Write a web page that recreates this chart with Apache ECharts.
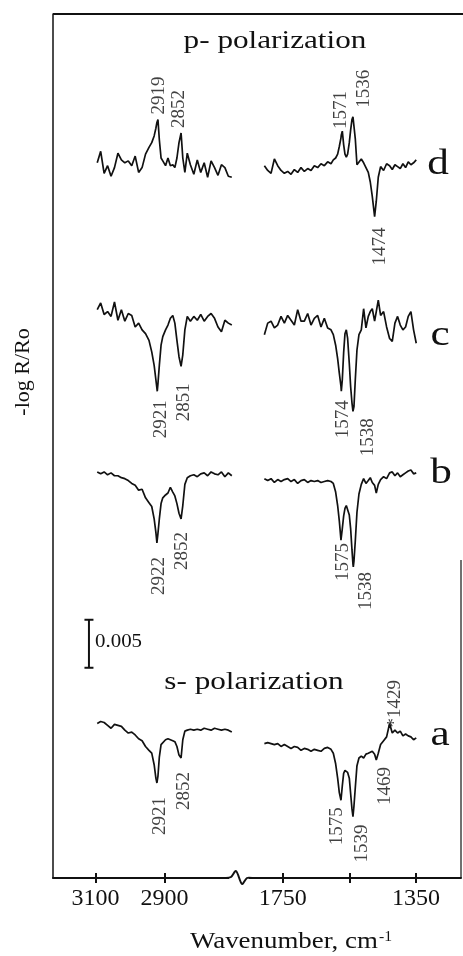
<!DOCTYPE html>
<html>
<head>
<meta charset="utf-8">
<script src="https://cdn.jsdelivr.net/npm/echarts@6/dist/echarts.min.js"></script>
<style>
  html, body { margin: 0; padding: 0; background: #fff; }
  #chart { width: 463px; height: 956px; }
</style>
</head>
<body>
<div id="chart"></div>
<script>
// Wavenumber samples (cm-1) for the C-H stretching window and the fingerprint window
const wnCH = [3095, 3085, 3075, 3065, 3055, 3045, 3035, 3025, 3015, 3005,
  2995, 2985, 2975, 2965, 2955, 2945, 2937, 2930, 2925, 2922,
  2921, 2919, 2915, 2910, 2905, 2897, 2890, 2883, 2876, 2870,
  2864, 2858, 2852, 2851, 2847, 2841, 2834, 2825, 2815, 2805,
  2795, 2785, 2775, 2765, 2755, 2745, 2735, 2725, 2715, 2705];

const wnFP = [1805, 1795, 1785, 1775, 1765, 1755, 1745, 1735, 1725, 1715,
  1705, 1695, 1685, 1675, 1665, 1655, 1645, 1635, 1625, 1615,
  1605, 1598, 1591, 1585, 1580, 1575, 1574, 1571, 1567, 1563,
  1559, 1555, 1550, 1546, 1542, 1539, 1538, 1536, 1532, 1527,
  1521, 1514, 1507, 1500, 1493, 1487, 1481, 1474, 1469, 1463,
  1456, 1447, 1438, 1429, 1421, 1413, 1405, 1397, 1389, 1381,
  1373, 1365, 1357, 1349];

// -log R/Ro in units of 1e-3, relative to each trace's own baseline
const dCH = [0.5, 1.7, -0.6, 0.2, -0.9, 0.0, 1.5, 0.8, 0.5, 0.7,
  0.2, 1.2, -0.5, 0.0, 1.4, 2.1, 2.6, 3.3, 4.1, 4.7,
  4.9, 5.0, 2.9, 1.0, 0.7, 0.2, 1.0, 0.2, 0.3, 0.0,
  1.0, 2.6, 3.6, 3.1, 1.0, -0.5, 1.5, 0.3, -0.7, 0.8,
  -0.5, 0.5, -1.0, 0.7, 0.0, -0.8, 0.3, 0.0, -0.9, -1.0];
const dFP = [0.2, -0.3, -0.6, 0.9, 0.2, -0.3, -0.6, -0.4, -0.7, -0.2,
  -0.5, 0.0, -0.4, -0.1, -0.3, 0.2, 0.0, 0.4, 0.2, 0.6,
  0.4, 0.8, 1.0, 1.4, 2.2, 3.1, 3.4, 3.8, 2.4, 1.4,
  1.1, 1.4, 2.6, 3.9, 5.0, 5.3, 5.4, 5.5, 3.0, 0.3,
  0.2, 0.9, 0.5, 0.0, -0.5, -1.5, -3.0, -5.1, -3.5, -1.0,
  0.1, -0.3, 0.4, 0.2, -0.2, 0.3, 0.1, -0.1, 0.4, 0.0,
  0.6, 0.3, 0.5, 0.8];

const cCH = [1.2, 1.9, 0.7, 1.0, 0.5, 2.0, 0.1, 1.2, 0.0, 0.8,
  0.6, -0.6, -0.2, -0.9, -1.3, -2.0, -3.2, -4.6, -6.1, -7.0,
  -7.3, -6.5, -4.6, -2.5, -1.6, -0.9, -0.4, 0.3, 0.6, -0.2,
  -2.0, -3.7, -4.7, -4.9, -3.5, -0.9, 0.5, 0.0, 0.5, 0.1,
  0.7, 0.0, 0.5, 0.8, 0.3, -0.6, -1.1, 0.1, -0.2, -0.4];
const cFP = [-1.4, -0.2, 0.0, -0.7, -0.4, 0.5, -0.2, 0.6, 0.1, -0.4,
  1.2, 0.0, 0.0, 0.8, -0.4, 0.3, 0.6, -0.6, 0.3, -0.7,
  -0.9, -1.4, -2.5, -3.9, -5.4, -6.8, -7.3, -6.1, -3.3, -1.3,
  -0.9, -1.8, -4.4, -6.8, -8.5, -9.4, -9.6, -8.9, -6.1, -3.0,
  -1.4, -0.9, 1.3, -0.7, 0.5, 1.0, 1.3, 0.0, 1.0, 2.2,
  0.6, 1.0, -0.6, -1.8, -2.1, -0.2, 0.5, -0.4, -0.9, -0.6,
  0.5, 1.0, -0.9, -2.3];

const bCH = [0.3, 0.1, 0.3, 0.0, 0.2, -0.1, -0.1, -0.3, -0.4, -0.6,
  -0.9, -1.1, -1.6, -1.5, -2.4, -2.9, -3.3, -4.6, -6.0, -7.1,
  -6.9, -6.1, -4.6, -3.0, -2.4, -2.1, -1.9, -1.3, -1.8, -2.2,
  -3.0, -4.0, -4.6, -4.4, -3.2, -1.0, -0.3, -0.1, 0.0, -0.2,
  0.1, 0.2, -0.1, 0.3, 0.1, 0.0, 0.3, -0.2, 0.2, -0.1];
const bFP = [-0.4, -0.6, -0.4, -0.8, -0.5, -0.7, -0.5, -0.4, -0.7, -0.5,
  -0.9, -0.6, -0.5, -0.8, -0.6, -0.7, -0.6, -0.8, -0.7, -0.6,
  -0.7, -0.9, -1.8, -3.2, -4.8, -6.8, -6.7, -5.6, -4.3, -3.5,
  -3.2, -3.4, -4.2, -5.6, -7.8, -9.3, -9.6, -9.0, -6.9, -3.9,
  -2.0, -1.0, -0.4, -0.9, -0.6, -0.3, -0.8, -1.1, -1.9, -1.0,
  -0.5, -0.2, -0.4, 0.2, 0.3, -0.1, 0.2, -0.2, 0.0, 0.2,
  0.4, 0.5, 0.1, 0.2];

const aCH = [0.1, 0.3, 0.2, -0.1, -0.4, 0.0, -0.1, -0.2, -0.6, -0.9,
  -0.8, -1.1, -1.5, -1.7, -2.3, -2.7, -3.0, -4.2, -5.6, -6.1,
  -6.3, -5.4, -3.4, -2.1, -1.9, -1.6, -1.5, -1.6, -1.7, -1.8,
  -2.3, -3.2, -3.5, -3.3, -1.6, -0.7, -0.6, -0.5, -0.6, -0.5,
  -0.6, -0.4, -0.5, -0.6, -0.4, -0.5, -0.6, -0.5, -0.6, -0.8];
const aFP = [-2.0, -1.9, -2.0, -2.1, -2.0, -2.3, -2.1, -2.3, -2.5, -2.3,
  -2.4, -2.7, -2.5, -2.6, -2.8, -2.6, -2.7, -2.8, -2.5, -2.4,
  -2.6, -3.0, -4.1, -5.6, -7.1, -7.9, -7.8, -6.4, -5.1, -4.8,
  -4.8, -5.0, -5.6, -7.2, -8.8, -9.6, -9.4, -8.5, -6.6, -4.3,
  -3.5, -3.3, -3.5, -3.1, -3.0, -2.9, -2.8, -3.1, -3.7, -3.0,
  -2.1, -1.7, -1.3, 0.1, -0.9, -0.6, -0.9, -0.7, -1.2, -1.0,
  -1.2, -1.3, -1.6, -1.4];

// Vertical stacking offsets (1e-3 units) for traces d, c, b, a
const traceNames = ['d', 'c', 'b', 'a'];
const traceOffsets = [74, 58, 42, 16];

// Assigned band positions (cm-1)
const peaksCH = { d: [2919, 2852], c: [2921, 2851], b: [2922, 2852], a: [2921, 2852] };
const peaksFP = { d: [1571, 1536, 1474], c: [1574, 1538], b: [1575, 1538], a: [1575, 1539, 1469, 1429] };
const starredBands = { a: [1429] };

// Tick marks of the broken wavenumber axis
const ticksCH = [3100, 2900];
const ticksFP = [1750, 1550, 1350];
const labelsCH = [3100, 2900];
const labelsFP = [1750, 1350];

// Scale bar: 0.005 in -log R/Ro
const scaleBarValue = 0.005;

const FONT = "'Liberation Serif', 'Times New Roman', serif";
const INK = '#111';

// label placement on screen: [horizontal shift, gap from band tip] in px
const labelPlace = {
  d2919: [1, 5], d2852: [-2, 5], d1571: [-1, 2], d1536: [10, 7], d1474: [5, 11],
  c2921: [4, 9], c2851: [3, 15], c1574: [2, 9], c1538: [15, 5],
  b2922: [2, 14], b2852: [1, 13], b1575: [2, 3], b1538: [13, 5],
  a2921: [3, 12], a2852: [3, 14], a1575: [-4, 7], a1539: [9, 8], a1469: [9, 7], a1429: [5, -4]
};

const traces = {
  d: { ch: dCH, fp: dFP }, c: { ch: cCH, fp: cFP },
  b: { ch: bCH, fp: bFP }, a: { ch: aCH, fp: aFP }
};

const series = [];
const chLabels = [];
const fpLabels = [];

traceNames.forEach(function (name, k) {
  const off = traceOffsets[k];
  const t = traces[name];
  series.push({
    type: 'line', xAxisIndex: 0, yAxisIndex: 0, symbol: 'none', silent: true,
    lineStyle: { color: INK, width: 1.7 },
    data: wnCH.map(function (w, i) { return [w, off + t.ch[i]]; })
  });
  series.push({
    type: 'line', xAxisIndex: 2, yAxisIndex: 1, symbol: 'none', silent: true,
    lineStyle: { color: INK, width: 1.7 },
    data: wnFP.map(function (w, i) { return [w, off + t.fp[i]]; })
  });

  function bandLabel(grid, w, out) {
    const idx = grid.wn.indexOf(w);
    const v = grid.vals[idx];
    const up = v > 0;
    const place = labelPlace[name + w] || [0, 6];
    const star = (starredBands[name] || []).indexOf(w) >= 0;
    // the label offset lives in the rotated text frame: x runs upward, y runs right
    out.push({
      value: [w, off + v],
      label: {
        show: true,
        formatter: (star ? '*' : '') + w,
        rotate: 90,
        position: 'inside',
        align: up ? 'left' : 'right',
        verticalAlign: 'middle',
        offset: [up ? place[1] : -place[1], place[0]],
        fontFamily: FONT, fontSize: 19, color: INK
      }
    });
  }
  peaksCH[name].forEach(function (w) { bandLabel({ wn: wnCH, vals: t.ch }, w, chLabels); });
  peaksFP[name].forEach(function (w) { bandLabel({ wn: wnFP, vals: t.fp }, w, fpLabels); });
});

series.push({
  type: 'scatter', xAxisIndex: 0, yAxisIndex: 0, symbolSize: 1, silent: true,
  itemStyle: { color: 'rgba(0,0,0,0)' }, data: chLabels
});
series.push({
  type: 'scatter', xAxisIndex: 2, yAxisIndex: 1, symbolSize: 1, silent: true,
  itemStyle: { color: 'rgba(0,0,0,0)' }, data: fpLabels
});

// scale bar drawn in data units on the C-H panel
const barAt = 3119, barBase = 21.9;
series.push({
  type: 'line', xAxisIndex: 0, yAxisIndex: 0, silent: true,
  symbol: 'rect', symbolSize: [9, 2], showSymbol: true,
  lineStyle: { color: INK, width: 2 }, itemStyle: { color: INK },
  data: [[barAt, barBase], [barAt, barBase + scaleBarValue * 1000]]
});

const chRange = { min: 2681.2, max: 3223.2 };
const fpRange = { min: 1214.6, max: 1878.2 };

function bottomAxis(grid, range, ticks, labels, inside) {
  return {
    type: 'value', gridIndex: grid, position: 'bottom', inverse: true,
    min: range.min, max: range.max,
    splitLine: { show: false },
    axisLine: { show: !inside, lineStyle: { color: INK, width: 2 } },
    axisTick: { show: true, inside: inside, length: 5, customValues: ticks, lineStyle: { color: INK, width: 2 } },
    axisLabel: inside ? { show: false } : {
      show: true, customValues: labels, margin: 9,
      fontFamily: FONT, fontSize: 24, color: INK,
      formatter: function (v) { return String(v); }
    }
  };
}

const chart = echarts.init(document.getElementById('chart'), null, { renderer: 'canvas' });
chart.setOption({
  animation: false,
  backgroundColor: '#fff',
  grid: [
    { left: 53, top: 14, width: 187, height: 864 },
    { left: 240, top: 14, width: 221, height: 864 }
  ],
  xAxis: [
    bottomAxis(0, chRange, ticksCH, labelsCH, false),
    bottomAxis(0, chRange, ticksCH, labelsCH, true),
    bottomAxis(1, fpRange, ticksFP, labelsFP, false),
    bottomAxis(1, fpRange, ticksFP, labelsFP, true)
  ],
  yAxis: [
    { type: 'value', gridIndex: 0, min: 0, max: 90, position: 'left',
      splitLine: { show: false }, axisTick: { show: false }, axisLabel: { show: false },
      axisLine: { show: true, lineStyle: { color: INK, width: 1.5 } } },
    { type: 'value', gridIndex: 1, min: 0, max: 90, show: false, splitLine: { show: false } }
  ],
  series: series,
  graphic: [
    { type: 'line', z: 50, shape: { x1: 53, y1: 14, x2: 463, y2: 14 }, style: { stroke: INK, lineWidth: 2 } },
    { type: 'line', z: 50, shape: { x1: 461, y1: 560, x2: 461, y2: 878 }, style: { stroke: INK, lineWidth: 1.2 } },
    { type: 'rect', z: 100, shape: { x: 229, y: 870, width: 20, height: 16 }, style: { fill: '#fff' } },
    { type: 'polyline', z: 101, shape: { points: [[226, 878], [231, 877], [236, 871], [242, 884], [247, 878], [252, 878]], smooth: 0.3 },
      style: { stroke: INK, lineWidth: 2, fill: null } },
    { type: 'text', z: 60, x: 275, y: 41, scaleX: 1.2,
      style: { text: 'p- polarization', fontFamily: FONT, fontSize: 26, fill: INK, align: 'center', verticalAlign: 'middle' } },
    { type: 'text', z: 60, x: 254, y: 682, scaleX: 1.2,
      style: { text: 's- polarization', fontFamily: FONT, fontSize: 26, fill: INK, align: 'center', verticalAlign: 'middle' } },
    { type: 'text', z: 60, x: 95, y: 642, scaleX: 1.1,
      style: { text: String(scaleBarValue), fontFamily: FONT, fontSize: 19, fill: INK, align: 'left', verticalAlign: 'middle' } },
    { type: 'text', z: 60, x: 23, y: 372, rotation: Math.PI / 2,
      style: { text: '-log R/Ro', fontFamily: FONT, fontSize: 22, fill: INK, align: 'center', verticalAlign: 'middle' } },
    { type: 'text', z: 60, x: 291, y: 942, scaleX: 1.12,
      style: { text: 'Wavenumber, cm{sup|-1}', fontFamily: FONT, fontSize: 24, fill: INK, align: 'center', verticalAlign: 'middle',
        rich: { sup: { fontFamily: FONT, fontSize: 14, fill: INK, verticalAlign: 'top', padding: [0, 0, 10, 1] } } } },
    { type: 'text', z: 60, x: 438, y: 165, scaleX: 1.2,
      style: { text: traceNames[0], fontFamily: FONT, fontSize: 36, fill: INK, align: 'center', verticalAlign: 'middle' } },
    { type: 'text', z: 60, x: 440, y: 336, scaleX: 1.2,
      style: { text: traceNames[1], fontFamily: FONT, fontSize: 36, fill: INK, align: 'center', verticalAlign: 'middle' } },
    { type: 'text', z: 60, x: 441, y: 474, scaleX: 1.2,
      style: { text: traceNames[2], fontFamily: FONT, fontSize: 36, fill: INK, align: 'center', verticalAlign: 'middle' } },
    { type: 'text', z: 60, x: 440, y: 736, scaleX: 1.2,
      style: { text: traceNames[3], fontFamily: FONT, fontSize: 36, fill: INK, align: 'center', verticalAlign: 'middle' } }
  ]
});
</script>
</body>
</html>
